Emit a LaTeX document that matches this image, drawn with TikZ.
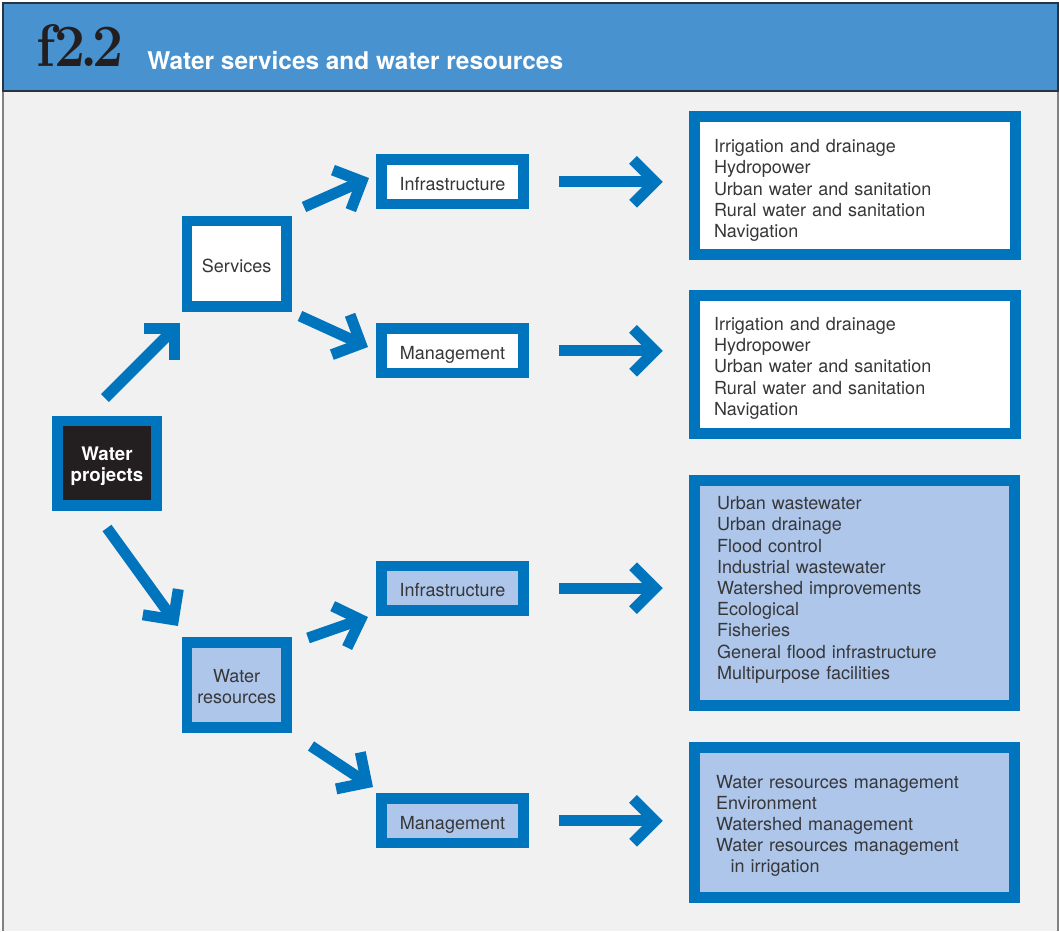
\documentclass[tikz,border=0pt]{standalone}
\usepackage{fontspec}
\usepackage{graphicx}
\setsansfont{TeX Gyre Heros}
\usetikzlibrary{calc}
\definecolor{wbblue}{RGB}{0,117,190}
\definecolor{headblue}{RGB}{72,146,208}
\definecolor{bodybg}{RGB}{241,241,241}
\definecolor{lblue}{RGB}{173,198,233}
\definecolor{nearblack}{RGB}{35,31,32}
\definecolor{txt}{RGB}{55,55,58}
\definecolor{headline}{RGB}{40,52,66}
\definecolor{sideline}{RGB}{130,130,130}
\tikzset{
  box/.style={draw=wbblue, line width=8pt, inner sep=0pt, align=center,
    font=\sffamily\fontsize{13.5}{15.9}\selectfont, text=txt},
  whitebox/.style={box, fill=white},
  bluebox/.style={box, fill=lblue},
  smallbox/.style={minimum width=106.7pt, minimum height=33.2pt, text height=12.5pt, text depth=0pt},
  squarebox/.style={minimum width=74.5pt, minimum height=64pt},
  listbox/.style={draw=wbblue, line width=8.25pt, inner ysep=0pt, align=left,
    font=\sffamily\fontsize{13.5}{15.9}\selectfont, text=txt},
  flow/.style={draw=wbblue, line width=8.25pt, line cap=butt},
  flowhead/.style={flow, line join=miter}
}
\newcommand\flowarrow[2]{%
  \draw[flow] (#1) -- (#2);
  \draw[flowhead] ($(#2)!23.25pt!45:(#1)$) -- (#2) -- ($(#2)!23.25pt!-45:(#1)$);}
\begin{document}
\begin{tikzpicture}[x=0.75pt,y=-0.75pt]
\useasboundingbox (0,0) rectangle (1059,931);
\fill[white] (0,0) rectangle (1059,931);
% body
\fill[bodybg] (3,91) rectangle (1058,931);
\draw[sideline, line width=1.7pt] (2.8,91) -- (2.8,931);
\draw[sideline, line width=1.7pt] (1058.2,91) -- (1058.2,931);
% header
\fill[headblue] (3,3) rectangle (1058,91);
\draw[headline, line width=1.2pt] (3,3) rectangle (1058,91);
\node[anchor=base west, inner sep=0pt, text=nearblack,
  font=\bfseries\fontsize{45}{45}\selectfont] (num) at (36,67)
  {\scalebox{0.92}[1]{f\kern-1pt2\kern-4pt.\kern-4pt2}};
\node[anchor=base west, inner sep=0pt, text=white,
  font=\sffamily\bfseries\fontsize{18.3}{22}\selectfont] (title) at (147,69.5)
  {Water services and water resources};
% left column
\node[box, fill=nearblack, text=white, font=\sffamily\bfseries\fontsize{14}{15.9}\selectfont,
  minimum width=74pt, minimum height=63.2pt, text height=30.5pt] (wp) at (107,463.2) {Water\\projects};
\node[whitebox, squarebox, text height=12.5pt, text depth=0pt] (serv) at (236.7,263.7) {Services};
\node[bluebox, squarebox, text height=28.6pt] (wres) at (236.7,685) {Water\\resources};
% middle column
\node[whitebox, smallbox] (inf1) at (452.5,181.8) {Infrastructure};
\node[whitebox, smallbox] (man1) at (452.5,350.8) {Management};
\node[bluebox, smallbox] (inf2) at (452.5,588.2) {Infrastructure};
\node[bluebox, smallbox] (man2) at (452.5,820.8) {Management};
% right column
\node[listbox, fill=white, inner xsep=14.6pt, text width=211.2pt, minimum height=103.5pt]
  (r1) at (854.8,185.5) {\rule{0pt}{17.4pt}Irrigation and drainage\\Hydropower\\Urban water and sanitation\\Rural water and sanitation\\Navigation};
\node[listbox, fill=white, inner xsep=14.6pt, text width=211.2pt, minimum height=103.5pt]
  (r2) at (854.8,364.2) {\rule{0pt}{15.9pt}Irrigation and drainage\\Hydropower\\Urban water and sanitation\\Rural water and sanitation\\Navigation};
\node[listbox, fill=lblue, inner xsep=16.9pt, text width=206.2pt, minimum height=168.5pt]
  (r3) at (854.5,592.9) {Urban wastewater\\Urban drainage\\Flood control\\Industrial wastewater\\Watershed improvements\\Ecological\\Fisheries\\General flood infrastructure\\Multipurpose facilities\par\vspace*{4.5pt}};
\node[listbox, fill=lblue, inner xsep=16.1pt, text width=207.8pt, minimum height=112pt]
  (r4) at (854.6,822.5) {\rule{0pt}{15pt}Water resources management\\Environment\\Watershed management\\Water resources management\\\hspace*{11pt}in irrigation};
% arrow end points
\coordinate (a1s) at (105,398);   \coordinate (a1t) at (174.5,328.5);
\coordinate (a2s) at (304,207);   \coordinate (a2t) at (361.9,181.2);
\coordinate (a3s) at (300,316);   \coordinate (a3t) at (360.9,343.8);
\coordinate (a4s) at (107,528);   \coordinate (a4t) at (173.4,619.7);
\coordinate (a5s) at (308,638);   \coordinate (a5t) at (360.6,619.6);
\coordinate (a6s) at (311,746);   \coordinate (a6t) at (366.5,782.7);
\coordinate (h1s) at (559,181.8); \coordinate (h1t) at (655,181.8);
\coordinate (h2s) at (559,350.8); \coordinate (h2t) at (655,350.8);
\coordinate (h3s) at (559,588.2); \coordinate (h3t) at (655,588.2);
\coordinate (h4s) at (559,820.8); \coordinate (h4t) at (655,820.8);
\flowarrow{a1s}{a1t}
\flowarrow{a2s}{a2t}
\flowarrow{a3s}{a3t}
\flowarrow{a4s}{a4t}
\flowarrow{a5s}{a5t}
\flowarrow{a6s}{a6t}
\flowarrow{h1s}{h1t}
\flowarrow{h2s}{h2t}
\flowarrow{h3s}{h3t}
\flowarrow{h4s}{h4t}
\end{tikzpicture}
\end{document}
